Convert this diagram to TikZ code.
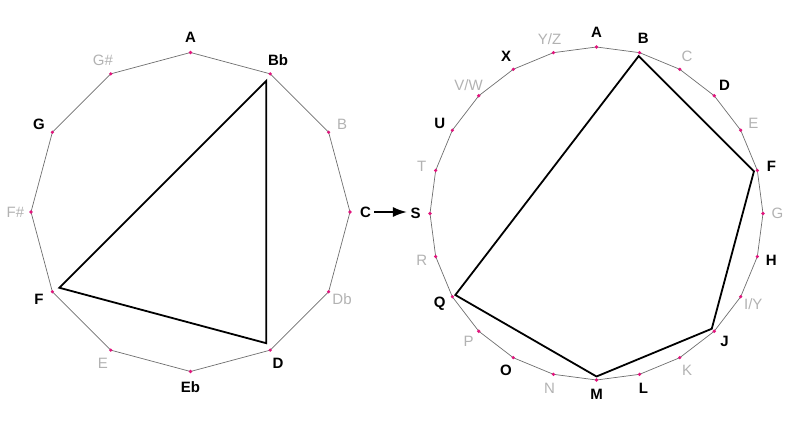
\documentclass[tikz,border=0pt]{standalone}
\usepackage{fontspec}
\setmainfont{Liberation Sans}
\usepackage{tikz}
\usetikzlibrary{arrows.meta}
\definecolor{dotpink}{RGB}{225,20,125}
\definecolor{rimgray}{RGB}{110,110,110}
\tikzset{
	on/.style={font=\fontsize{15}{17}\selectfont\bfseries, text=black},
	off/.style={font=\fontsize{15}{17}\selectfont, text=black!30},
	rim/.style={draw=rimgray, line width=0.7pt},
	chord/.style={draw=black, line width=1.8pt, line join=miter},
	dot/.style={fill=dotpink}
}
\begin{document}
\begin{tikzpicture}[x=1pt,y=1pt]
	\useasboundingbox (0,0) rectangle (796,431);

	% Twelve notes
	\begin{scope}[shift={(190.5,219)}]
		\foreach \n/\t/\s [count=\i from 0] in {A/A/on, Bb/Bb/on, B/B/off, C/C/on, Db/Db/off, D/D/on, Eb/Eb/on, E/E/off, F/F/on, Fs/F\#/off, G/G/on, Gs/G\#/off}
		{
			\coordinate (12\n) at (90-30*\i:159.5);
			\coordinate (c12\n) at (90-30*\i:151.5);
			\node [\s] (t12\n) at (90-30*\i:175) {\t};
		}
	\end{scope}
	\draw [rim] (12A) -- (12Bb) -- (12B) -- (12C) -- (12Db) -- (12D) -- (12Eb) -- (12E) -- (12F) -- (12Fs) -- (12G) -- (12Gs) -- cycle;
	\draw [chord] (c12Bb) -- (c12D) -- (c12F) -- cycle;
	\foreach \n in {A,Bb,B,C,Db,D,Eb,E,F,Fs,G,Gs}
		\fill [dot] (12\n) circle (1.8);

	% Twenty-four letters
	\begin{scope}[shift={(596.5,217.5)}]
		\foreach \n/\t/\s [count=\i from 0] in {A/A/on, B/B/on, C/C/off, D/D/on, E/E/off, F/F/on, G/G/off, H/H/on, IY/{I/Y}/off, J/J/on, K/K/off, L/L/on, M/M/on, N/N/off, O/O/on, P/P/off, Q/Q/on, R/R/off, S/S/on, T/T/off, U/U/on, VW/{V/W}/off, X/X/on, YZ/{Y/Z}/off}
		{
			\coordinate (24\n) at (90-15*\i:166.5);
			\coordinate (c24\n) at (90-15*\i:163);
			\node [\s] (t24\n) at (90-15*\i:181) {\t};
		}
	\end{scope}
	\draw [rim] (24A) -- (24B) -- (24C) -- (24D) -- (24E) -- (24F) -- (24G) -- (24H) -- (24IY) -- (24J) -- (24K) -- (24L) -- (24M) -- (24N) -- (24O) -- (24P) -- (24Q) -- (24R) -- (24S) -- (24T) -- (24U) -- (24VW) -- (24X) -- (24YZ) -- cycle;
	\draw [chord] (c24B) -- (c24F) -- (c24J) -- (c24M) -- (c24Q) -- cycle;
	\foreach \n in {A,B,C,D,E,F,G,H,IY,J,K,L,M,N,O,P,Q,R,S,T,U,VW,X,YZ}
		\fill [dot] (24\n) circle (1.8);

	% Mapping
	\draw [-{Latex[length=14,width=10]}, line width=2] (t12C.east) -- (t12C.east -| t24S.west);
\end{tikzpicture}
\end{document}
